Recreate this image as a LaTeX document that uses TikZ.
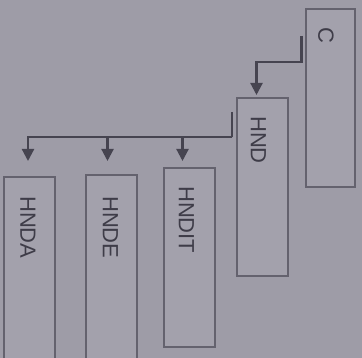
\documentclass[tikz,border=0pt]{standalone}
\usepackage{fontspec}
\setmainfont{Liberation Sans}
\usetikzlibrary{arrows.meta}
\definecolor{bg}{RGB}{158,156,167}
\definecolor{boxfill}{RGB}{163,161,172}
\definecolor{edge}{RGB}{100,98,110}
\definecolor{ink}{RGB}{70,68,80}
\definecolor{txt}{RGB}{62,60,72}
\tikzset{
  box/.style={draw=edge, line width=2pt, fill=boxfill, minimum width=49pt, inner sep=0pt},
  lbl/.style={rotate=-90, anchor=west, text=txt, font=\fontsize{22}{24}\selectfont, inner sep=0pt},
  conn/.style={draw=ink, line width=2.2pt},
  arr/.style={conn, -{Triangle[width=12pt,length=12pt]}}
}
\begin{document}
\begin{tikzpicture}[x=1pt,y=1pt]
\fill[bg] (0,0) rectangle (362,358);
\useasboundingbox (0,0) rectangle (362,358);
\node[box, minimum height=178pt] (C) at (330,260) {};
\node[box, minimum height=178pt, minimum width=51pt] (HND) at (262.5,171) {};
\node[box, minimum height=179pt, minimum width=51pt] (HNDIT) at (189.5,100.5) {};
\node[box, minimum height=186pt, minimum width=51pt] (HNDE) at (111.5,90) {};
\node[box, minimum height=186pt, minimum width=51pt] (HNDA) at (29,88) {};
\node[lbl] (tC) at ([xshift=-4pt,yshift=-19pt]C.north) {C};
\node[lbl] (tHND) at ([xshift=-4pt,yshift=-19pt]HND.north) {HND};
\node[lbl] (tHNDIT) at ([xshift=-3pt,yshift=-19pt]HNDIT.north) {HNDIT};
\node[lbl] (tHNDE) at ([xshift=-1pt,yshift=-22pt]HNDE.north) {HNDE};
\node[lbl] (tHNDA) at ([xshift=-1pt,yshift=-20pt]HNDA.north) {HNDA};
% C -> HND
\draw[arr] ([xshift=-3pt,yshift=-28pt]C.north west) |- ([xshift=-6pt,yshift=35pt]HND.north) -- ([xshift=-6pt,yshift=2pt]HND.north);
% HND -> children
\coordinate (bus) at ([xshift=-4pt,yshift=-40pt]HND.north west);
\draw[conn] ([xshift=-4pt,yshift=-15pt]HND.north west) -- (bus);
\draw[arr] (bus) -| ([xshift=-1pt,yshift=15pt]HNDA.north);
\draw[arr] (bus) -| ([xshift=-4pt,yshift=13pt]HNDE.north);
\draw[arr] (bus) -| ([xshift=-7pt,yshift=6pt]HNDIT.north);
\end{tikzpicture}
\end{document}
